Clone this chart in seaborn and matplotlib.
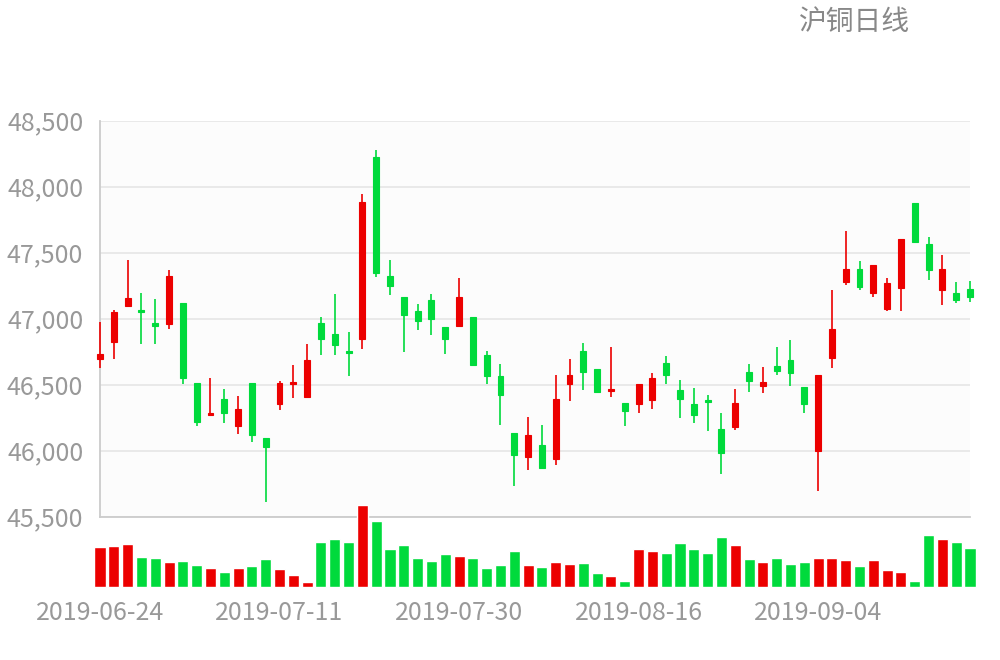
import numpy as np
import pandas as pd
import matplotlib
matplotlib.use('Agg')
import matplotlib.pyplot as plt
import matplotlib.ticker as mticker
import seaborn as sns

# trading days (Sep 13 was a holiday)
dates = [d.strftime('%Y-%m-%d') for d in pd.bdate_range('2019-06-24', '2019-09-20')
         if d.strftime('%Y-%m-%d') != '2019-09-13']

open_ = [46692, 46821, 47099, 47063, 46965, 46960, 47117, 46510, 46268, 46392,
         46190, 46510, 46094, 46351, 46508, 46410, 46965, 46882, 46755, 46849,
         48222, 47324, 47164, 47061, 47144, 46935, 46947, 47013, 46723, 46564,
         46134, 45950, 46043, 45937, 46508, 46755, 46617, 46450, 46364, 46351,
         46382, 46662, 46462, 46354, 46384, 46165, 46182, 46594, 46493, 46642,
         46685, 46483, 46000, 46702, 47281, 47374, 47192, 47076, 47230, 47874,
         47563, 47220, 47197, 47225]
close = [46733, 47053, 47154, 47048, 46947, 47324, 46548, 46220, 46283, 46283,
         46314, 46122, 46031, 46513, 46523, 46685, 46849, 46801, 46743, 47881,
         47349, 47250, 47031, 46980, 46998, 46849, 47162, 46647, 46569, 46420,
         45970, 46122, 45867, 46392, 46574, 46599, 46447, 46465, 46301, 46503,
         46553, 46571, 46392, 46273, 46369, 45980, 46364, 46531, 46523, 46601,
         46591, 46351, 46574, 46922, 47374, 47238, 47407, 47273, 47604, 47579,
         47371, 47374, 47142, 47167]
high = [46977, 47066, 47445, 47197, 47147, 47369, 47117, 46510, 46548, 46467,
        46415, 46510, 46094, 46528, 46647, 46806, 47016, 47187, 46897, 47945,
        48278, 47445, 47164, 47109, 47187, 46935, 47306, 47013, 46755, 46657,
        46134, 46255, 46195, 46576, 46695, 46816, 46617, 46786, 46364, 46503,
        46589, 46718, 46536, 46475, 46425, 46286, 46467, 46657, 46637, 46786,
        46839, 46483, 46574, 47217, 47665, 47437, 47407, 47306, 47604, 47874,
        47619, 47485, 47278, 47286]
low = [46629, 46697, 47086, 46806, 46806, 46925, 46508, 46187, 46263, 46207,
       46129, 46069, 45609, 46308, 46397, 46410, 46728, 46728, 46569, 46768,
       47318, 47177, 46745, 46917, 46877, 46735, 46947, 46647, 46508, 46195,
       45735, 45857, 45867, 45895, 46374, 46457, 46440, 46407, 46187, 46288,
       46318, 46506, 46248, 46207, 46147, 45826, 46157, 46447, 46437, 46576,
       46488, 46288, 45697, 46627, 47258, 47217, 47167, 47056, 47056, 47579,
       47296, 47106, 47119, 47127]
volume = [121, 123, 131, 91, 87, 77, 80, 68, 58, 46,
          58, 64, 84, 55, 37, 17, 137, 145, 135, 248,
          199, 115, 128, 89, 79, 99, 94, 89, 59, 67,
          109, 68, 61, 76, 69, 72, 43, 34, 18, 115,
          109, 103, 133, 114, 103, 151, 128, 85, 75, 88,
          70, 77, 88, 89, 82, 63, 82, 51, 46, 20,
          156, 145, 135, 117]
volume = [v * 1000 for v in volume]

up_color = '#ec0000'
down_color = '#00da3c'

df = pd.DataFrame({'date': dates, 'open': open_, 'close': close,
                   'high': high, 'low': low, 'volume': volume})
df['idx'] = np.arange(len(df))
df['dir'] = np.where(df['close'] >= df['open'], 'up', 'down')
pal = {'up': up_color, 'down': down_color}

sns.set_theme(style='white')
plt.rcParams['font.family'] = ['Noto Sans CJK SC', 'DejaVu Sans']

fig = plt.figure(figsize=(10, 6.6), dpi=100)
ax = fig.add_axes([0.1, 0.2171, 0.87, 0.6], facecolor='#fcfcfc')
axv = fig.add_axes([0.1, 0.1102, 0.87, 0.1251])
axv.patch.set_alpha(0)

# candles
colors = df['dir'].map(pal)
ax.vlines(df['idx'], df['low'], df['high'], colors=colors, linewidth=1.2,
          clip_on=False, zorder=3)
body_bottom = df[['open', 'close']].min(axis=1)
body_h = (df['close'] - df['open']).abs()
ax.bar(df['idx'], body_h, bottom=body_bottom, width=0.43, color=colors,
       edgecolor=colors, linewidth=0.8, clip_on=False, zorder=4)

ax.set_xlim(0, len(df) - 1)
ax.set_ylim(45500, 48500)
ax.set_yticks(np.arange(45500, 48501, 500))
ax.yaxis.set_major_formatter(mticker.FuncFormatter(lambda v, p: f'{int(v):,}'))
ax.grid(axis='y', color='#e8e8e8', linewidth=1.3)
ax.set_axisbelow(True)
ax.set_xticks([])
for s in ['top', 'right']:
    ax.spines[s].set_visible(False)
for s in ['left', 'bottom']:
    ax.spines[s].set_color('#cccccc')
    ax.spines[s].set_linewidth(1.3)
ax.tick_params(axis='y', length=0, pad=12, labelsize=18, labelcolor='#999999')

# volume
sns.barplot(data=df, x='idx', y='volume', hue='dir', palette=pal, dodge=False,
            width=0.8, legend=False, ax=axv, saturation=1)
for p in axv.patches:
    p.set_clip_on(False)
axv.set_xlim(0, len(df) - 1)
axv.set_ylim(0, max(volume))
axv.set_yticks([])
axv.set_xlabel('')
axv.set_ylabel('')
tick_pos = list(range(0, len(df), 13))
axv.set_xticks(tick_pos)
axv.set_xticklabels([dates[i] for i in tick_pos])
axv.tick_params(axis='x', length=0, pad=9, labelsize=18, labelcolor='#999999')
for s in axv.spines.values():
    s.set_visible(False)

fig.text(0.854, 0.967, '沪铜日线', ha='center', va='center', fontsize=20, color='#888888')

fig.savefig('out.png', dpi=100)
